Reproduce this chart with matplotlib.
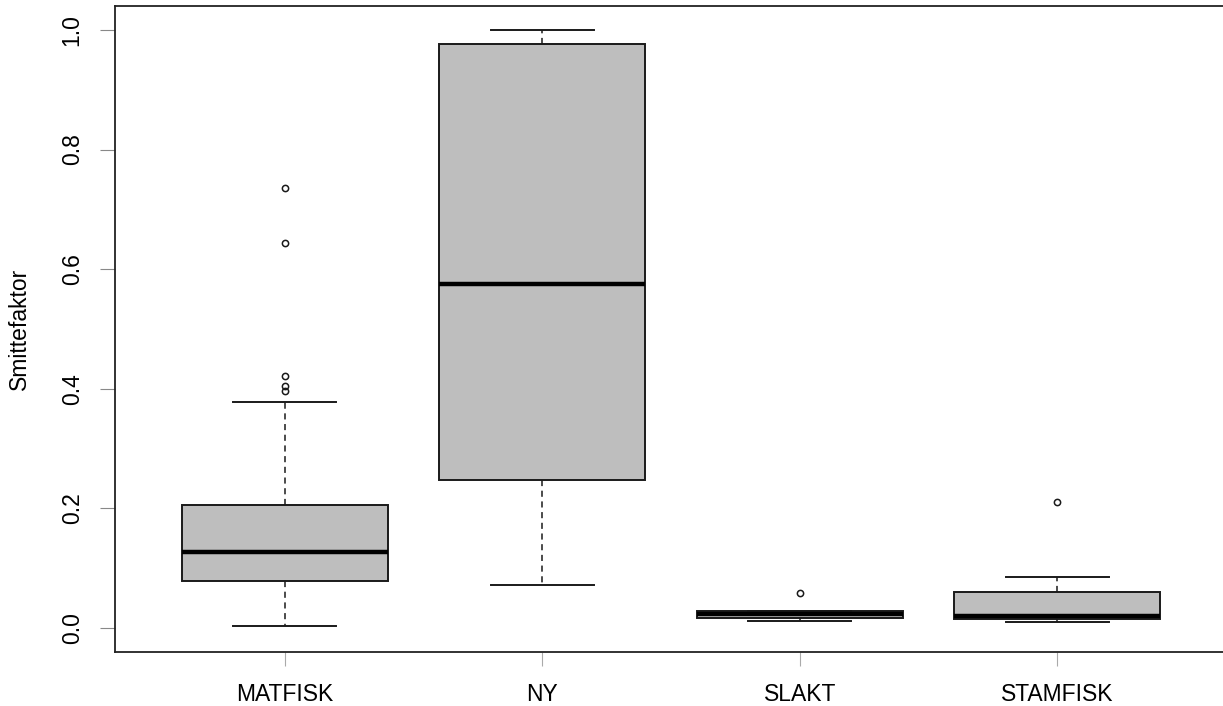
import numpy as np
import matplotlib
matplotlib.use('Agg')
import matplotlib.pyplot as plt

plt.rcParams['font.family'] = ['Liberation Sans', 'DejaVu Sans']

# box statistics (R-style boxplot)
groups = ['MATFISK', 'NY', 'SLAKT', 'STAMFISK']
whislo = [0.003, 0.072, 0.012, 0.0105]
q1 = [0.079, 0.247, 0.0164, 0.015]
med = [0.127, 0.575, 0.0234, 0.0206]
q3 = [0.206, 0.977, 0.0291, 0.0597]
whishi = [0.378, 1.0, 0.0291, 0.0853]
outliers = [[0.736, 0.644, 0.421, 0.405, 0.397], [], [0.059], [0.2115]]

stats = []
for i, g in enumerate(groups):
    stats.append({'label': g, 'whislo': whislo[i], 'q1': q1[i], 'med': med[i],
                  'q3': q3[i], 'whishi': whishi[i], 'fliers': outliers[i]})

fig = plt.figure(figsize=(12.23, 7.06), dpi=100)
ax = fig.add_axes([115 / 1223, 54 / 706, 1112 / 1223, 646 / 706])

ax.bxp(stats, positions=[1, 2, 3, 4], widths=0.8, patch_artist=True,
       boxprops=dict(facecolor='#bebebe', edgecolor='#1a1a1a', linewidth=1.4),
       medianprops=dict(color='black', linewidth=3.2, solid_capstyle='butt'),
       whiskerprops=dict(color='#1a1a1a', linewidth=1.1, linestyle=(0, (4, 3))),
       capprops=dict(color='#1a1a1a', linewidth=1.4),
       capwidths=0.4,
       flierprops=dict(marker='o', markerfacecolor='none', markeredgecolor='#1a1a1a',
                       markersize=4.5, markeredgewidth=1.1))

ax.set_xlim(0.34, 4.66)
ax.set_ylim(-0.04, 1.04)
ax.set_yticks([0.0, 0.2, 0.4, 0.6, 0.8, 1.0])
ax.set_yticklabels(['0.0', '0.2', '0.4', '0.6', '0.8', '1.0'], rotation=90, va='center')
ax.set_xticks([1, 2, 3, 4])
ax.set_xticklabels(groups)
ax.tick_params(axis='y', length=10.5, width=0.8, color='#888888', pad=12, labelsize=16.5)
ax.tick_params(axis='x', length=10, width=0.8, color='#aaaaaa', pad=12, labelsize=16.5)
for s in ax.spines.values():
    s.set_linewidth(1.3)
    s.set_color('#222222')

ax.set_ylabel('Smittefaktor', fontsize=16.5)
ax.yaxis.set_label_coords(-84 / 1112, 0.5)

fig.savefig('out.png', dpi=100)
